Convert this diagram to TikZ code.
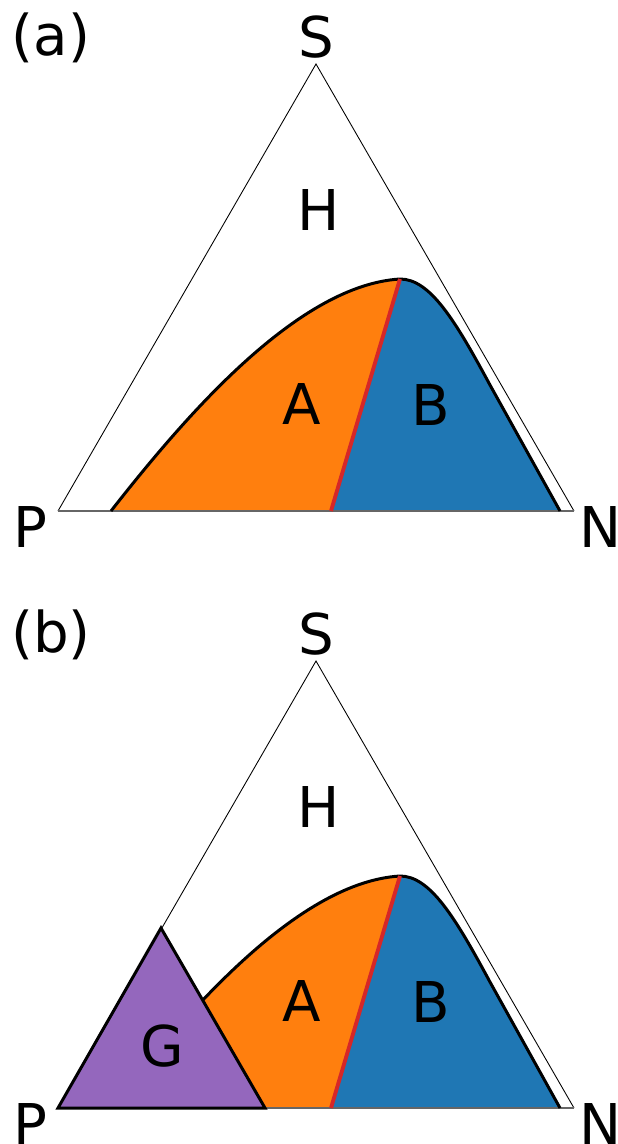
\documentclass[tikz,border=0pt]{standalone}
\usepackage{fontspec}
\setmainfont{DejaVu Sans}
\definecolor{TabOrange}{HTML}{FF7F0E}
\definecolor{TabBlue}{HTML}{1F77B4}
\definecolor{TabRed}{HTML}{D62728}
\definecolor{TabPurple}{HTML}{9467BD}
\usepackage{tikz}
\usetikzlibrary{calc}

\begin{document}
\begin{tikzpicture}[x=0.02cm, y=-0.02cm, every node/.style={font=\fontsize{32}{38}\selectfont, inner sep=0pt}]
\tikzset{frame/.style={draw=black, line width=0.5pt}}
\tikzset{baseedge/.style={draw=black!60, line width=1.1pt}}
\tikzset{bound/.style={draw=black, line width=1.7pt}}
\tikzset{divide/.style={draw=TabRed, line width=2.2pt}}
\tikzset{gtri/.style={draw=black, fill=TabPurple, line width=1.7pt}}
\useasboundingbox (0,0) rectangle (618,1144);
% both panels share the same phase diagram
\foreach \p/\dy in {a/0,b/597}{
\begin{scope}[shift={(0,\dy)}]
\coordinate (P\p) at (58,511);
\coordinate (N\p) at (574,511);
\coordinate (S\p) at (316,64);
\coordinate (top\p) at (400,279);
\coordinate (foot\p) at (331,511);
\coordinate (left\p) at (111,511);
\coordinate (bend\p) at (490,385);
\coordinate (right\p) at (560,511);
\fill[TabOrange] (left\p) .. controls (190,410) and (300,285) .. (top\p) -- (foot\p) -- cycle;
\fill[TabBlue] (top\p) .. controls (430,279) and (455,320) .. (bend\p) -- (right\p) -- (foot\p) -- cycle;
\draw[frame] (P\p) -- (S\p) -- (N\p);
\draw[baseedge] (P\p) -- (N\p);
\draw[bound] (left\p) .. controls (190,410) and (300,285) .. (top\p)
  .. controls (430,279) and (455,320) .. (bend\p) -- (right\p);
\draw[divide] (top\p) -- (foot\p);
\node (tag\p) at (51,38) {(\p)};
\node (tS\p) at (316,37) {S};
\node (tH\p) at (319,210) {H};
\node (tA\p) at (302,404) {A};
\node (tB\p) at (431,405) {B};
\node (tP\p) at (30,527) {P};
\node (tN\p) at (601,527) {N};
\end{scope}
}
% extra region in panel (b)
\coordinate (gl) at (58,1108);
\coordinate (gr) at (265,1108);
\coordinate (gt) at (161,928);
\draw[gtri] (gl) -- (gr) -- (gt) -- cycle;
\node (tG) at (162,1046) {G};
\end{tikzpicture}
\end{document}
